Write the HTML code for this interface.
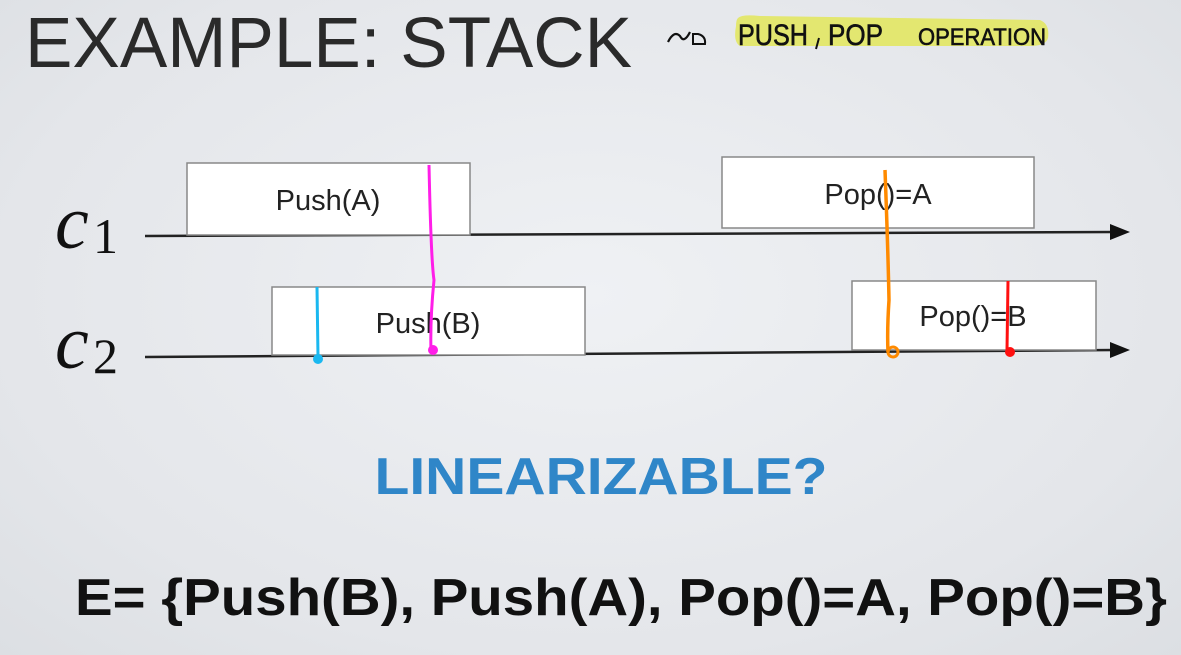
<!DOCTYPE html>
<html><head><meta charset="utf-8"><style>
html,body{margin:0;padding:0;}
body{width:1181px;height:655px;overflow:hidden;background:radial-gradient(ellipse at 50% 45%,#eff1f4 0%,#e4e6ea 70%,#dcdfe3 100%);}
svg{display:block}
</style></head><body>
<svg width="1181" height="655" viewBox="0 0 1181 655" xmlns="http://www.w3.org/2000/svg">
<text x="25" y="67" font-family="Liberation Sans, sans-serif" font-size="71" fill="#2a2a2a" textLength="607" lengthAdjust="spacingAndGlyphs">EXAMPLE: STACK</text>
<path d="M736 26 Q736 20 738 18 Q742 14 760 16 L1040 20 Q1050 24 1048 38 Q1046 46 1030 46 L740 46 Q733 42 736 26Z" fill="#e3e770"/>
<path d="M668 42 Q674 30 680 36 Q684 44 690 32" fill="none" stroke="#111" stroke-width="2.2"/>
<path d="M693 34 L693 44 L705 44 Q706 36 698 34Z" fill="none" stroke="#111" stroke-width="2"/>
<g font-family="Liberation Sans, sans-serif" fill="#111" stroke="#111" stroke-width="0.6">
<text x="738" y="45" font-size="30" textLength="70" lengthAdjust="spacingAndGlyphs">PUSH</text>
<text x="828" y="45" font-size="30" textLength="55" lengthAdjust="spacingAndGlyphs">POP</text>
<text x="918" y="45" font-size="24" textLength="128" lengthAdjust="spacingAndGlyphs">OPERATION</text>
</g>
<path d="M819 38 L816 49" stroke="#111" stroke-width="2"/>

<g stroke="#222" stroke-width="2.5" fill="none">
<path d="M145 236 L1115 232"/>
<path d="M145 357 L1115 350"/>
</g>
<path d="M1130 232 L1110 224 L1110 240Z" fill="#111"/>
<path d="M1130 350 L1110 342 L1110 358Z" fill="#111"/>

<g fill="#fff" stroke="#888" stroke-width="1.5">
<rect x="187" y="163" width="283" height="72"/>
<rect x="272" y="287" width="313" height="68"/>
<rect x="722" y="157" width="312" height="71"/>
<rect x="852" y="281" width="244" height="69"/>
</g>
<g font-family="Liberation Sans, sans-serif" font-size="29" fill="#222" text-anchor="middle">
<text x="328" y="210">Push(A)</text>
<text x="428" y="333">Push(B)</text>
<text x="878" y="204">Pop()=A</text>
<text x="973" y="326">Pop()=B</text>
</g>

<g font-family="Liberation Serif, serif" font-style="italic" font-size="76" fill="#111">
<text x="55" y="248">c</text><text x="55" y="368">c</text>
</g>
<g font-family="Liberation Serif, serif" font-size="50" fill="#111">
<text x="93" y="253">1</text><text x="93" y="373">2</text>
</g>

<path d="M429 165 Q431 260 434 280 Q430 320 431 352" stroke="#ff1ee8" stroke-width="3" fill="none"/>
<circle cx="433" cy="350" r="5" fill="#ff1ee8"/>
<path d="M317 287 L318 357" stroke="#1ab8f0" stroke-width="3" fill="none"/>
<circle cx="318" cy="359" r="5" fill="#1ab8f0"/>
<path d="M885 170 Q888 250 889 300 Q887 330 888 352" stroke="#ff8a00" stroke-width="3.5" fill="none"/>
<circle cx="893" cy="352" r="5" fill="none" stroke="#ff8a00" stroke-width="3"/>
<path d="M1008 281 L1007 350" stroke="#ff1010" stroke-width="3" fill="none"/>
<circle cx="1010" cy="352" r="5" fill="#ff1010"/>

<text x="601" y="494" text-anchor="middle" font-family="Liberation Sans, sans-serif" font-weight="bold" font-size="52" fill="#2f86c8" textLength="453" lengthAdjust="spacingAndGlyphs">LINEARIZABLE?</text>
<text x="75" y="615" font-family="Liberation Sans, sans-serif" font-weight="bold" font-size="52" fill="#111" textLength="1092" lengthAdjust="spacingAndGlyphs">E= {Push(B), Push(A), Pop()=A, Pop()=B}</text>
</svg>
</body></html>
